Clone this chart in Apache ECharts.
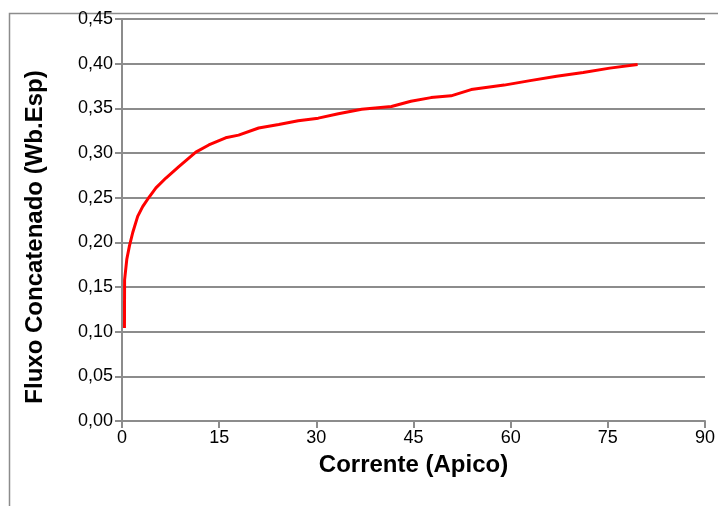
<!DOCTYPE html>
<html>
<head>
<meta charset="utf-8">
<script src="https://cdn.jsdelivr.net/npm/echarts@6/dist/echarts.min.js"></script>
<style>html,body{margin:0;padding:0;background:#fff;}#c{width:718px;height:506px;}</style>
</head>
<body>
<div id="c"></div>
<script>
var corrente = [0.38, 0.40, 0.74, 1.15, 1.66, 2.42, 3.19, 4.22, 5.24, 6.78, 8.82, 11.4, 13.4, 16.0, 18.0, 21.1, 24.2, 27.2, 30.3, 33.4, 37.0, 41.6, 44.6, 47.7, 50.8, 53.9, 59.0, 63.0, 67.1, 71.2, 75.3, 79.6];
var fluxo = [0.104, 0.158, 0.181, 0.196, 0.211, 0.229, 0.240, 0.251, 0.261, 0.272, 0.285, 0.301, 0.309, 0.317, 0.320, 0.328, 0.332, 0.336, 0.339, 0.344, 0.349, 0.352, 0.358, 0.362, 0.364, 0.371, 0.376, 0.381, 0.386, 0.390, 0.395, 0.399];
var xTitle = 'Corrente (Apico)';
var yTitle = 'Fluxo Concatenado (Wb.Esp)';

var pts = corrente.map(function (x, i) { return [x, fluxo[i]]; });
var chart = echarts.init(document.getElementById('c'));
var axisGray = '#8c8c8c';
chart.setOption({
  animation: false,
  graphic: [{
    type: 'rect', silent: true,
    shape: { x: 9.5, y: 13.5, width: 760, height: 560 },
    style: { fill: 'none', stroke: '#8c8c8c', lineWidth: 1.5 }
  }],
  grid: { left: 122, right: 10, top: 19, bottom: 85, containLabel: false },
  xAxis: {
    type: 'value', min: 0, max: 90, interval: 15,
    name: xTitle, nameLocation: 'middle', nameGap: 32,
    nameTextStyle: { fontFamily: 'Liberation Sans', fontWeight: 'bold', fontSize: 24, color: '#000' },
    axisLine: { lineStyle: { color: axisGray, width: 2 } },
    axisTick: { show: true, inside: false, length: 7, lineStyle: { color: axisGray, width: 2 } },
    axisLabel: { fontFamily: 'Liberation Sans', fontSize: 18, color: '#000', margin: 8 },
    splitLine: { show: false }
  },
  yAxis: {
    type: 'value', min: 0, max: 0.45, interval: 0.05,
    name: yTitle, nameLocation: 'middle', nameGap: 75, nameRotate: 90,
    nameTextStyle: { fontFamily: 'Liberation Sans', fontWeight: 'bold', fontSize: 24, color: '#000', padding: [0, 34, 0, 0] },
    axisLine: { show: true, lineStyle: { color: axisGray, width: 2 } },
    axisTick: { show: true, inside: false, length: 7, lineStyle: { color: axisGray, width: 2 } },
    axisLabel: { fontFamily: 'Liberation Sans', fontSize: 18, color: '#000', margin: 9,
      formatter: function (v) { return v.toFixed(2).replace('.', ','); } },
    splitLine: { show: true, lineStyle: { color: axisGray, width: 2 } }
  },
  series: [{
    type: 'line', data: pts, showSymbol: false, smooth: false,
    lineStyle: { color: '#ff0000', width: 3 }
  }]
});
</script>
</body>
</html>
